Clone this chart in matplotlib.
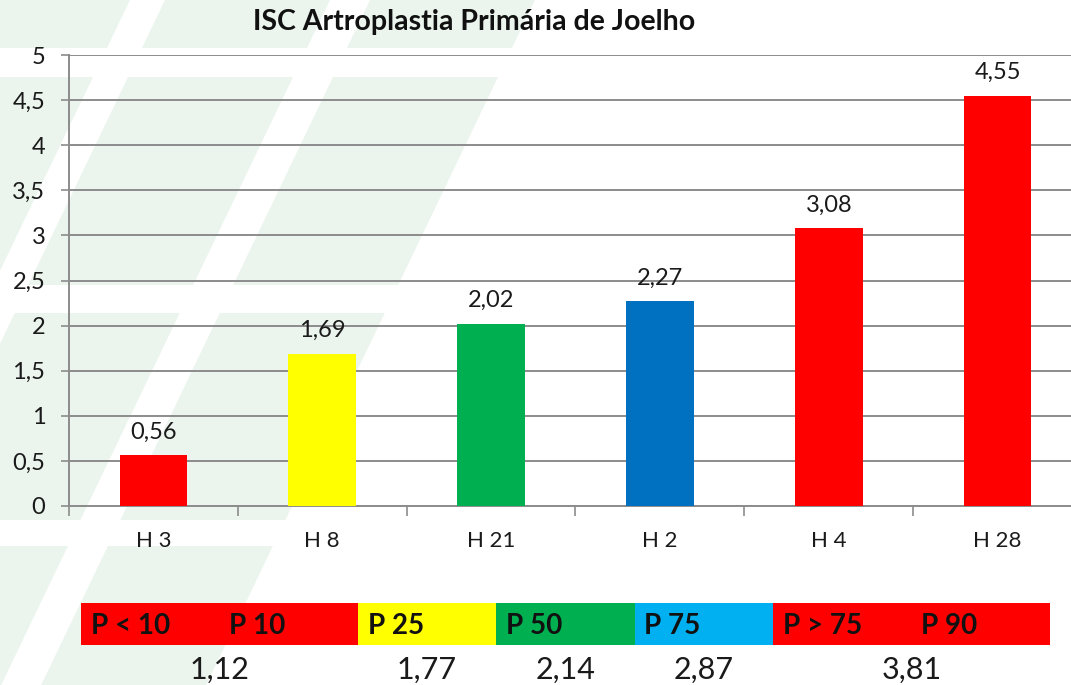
import matplotlib.pyplot as plt
from matplotlib.patches import Polygon

# Data
hospitals = ['H 3', 'H 8', 'H 21', 'H 2', 'H 4', 'H 28']
isc_values = [0.56, 1.69, 2.02, 2.27, 3.08, 4.55]
bar_colors = ['#ff0000', '#ffff00', '#00b050', '#0070c0', '#ff0000', '#ff0000']

pct_labels = ['P < 10', 'P 10', 'P 25', 'P 50', 'P 75', 'P > 75', 'P 90']
pct_colors = ['#ff0000', '#ff0000', '#ffff00', '#00b050', '#00b0f0', '#ff0000', '#ff0000']
pct_values = ['1,12', '1,77', '2,14', '2,87', '3,81']
pct_value_pos = [1.0, 2.5, 3.5, 4.5, 6.0]   # where each value sits along the strip

W, H = 1071, 685
FONT = 'Lato'

plt.rcParams['font.family'] = [FONT, 'DejaVu Sans']

fig = plt.figure(figsize=(W / 100, H / 100), dpi=100)
fig.patch.set_facecolor('white')


def px(x, y):
    # pixel coords (top-left origin) -> figure fraction
    return (x / W, 1 - y / H)


# faint green slanted tiles in the background
slant = 0.48
rows = [(0, 48), (77, 285), (313, 520), (546, 700)]
cols = [(-400, -230), (-195, -35), (0, 130), (165, 330), (370, 535)]
for y0, y1 in rows:
    for c0, c1 in cols:
        pts = [px(c0 - slant * y0, y0), px(c1 - slant * y0, y0),
               px(c1 - slant * y1, y1), px(c0 - slant * y1, y1)]
        fig.add_artist(Polygon(pts, closed=True, transform=fig.transFigure,
                               facecolor='#ebf5ed', edgecolor='none', zorder=0))

# main bar chart (plot area runs slightly past the right edge, as in the source)
ax = fig.add_axes([69 / W, 1 - 506 / H, (1082 - 69) / W, (506 - 55) / H])
ax.patch.set_alpha(0)
x = list(range(len(hospitals)))
bars = ax.bar(x, isc_values, width=0.4, color=bar_colors, zorder=3)

ax.set_xlim(-0.5, len(hospitals) - 0.5)
ax.set_ylim(0, 5)
yt = [i * 0.5 for i in range(11)]
ax.set_yticks(yt)
ax.set_yticklabels([f'{v:g}'.replace('.', ',') for v in yt], fontsize=17, color='#1a1a1a')
ax.yaxis.grid(True, color='#8c8c8c', linewidth=1.4, zorder=1)
ax.tick_params(axis='y', length=6, width=1.2, color='#8c8c8c', pad=11)

ax.set_xticks([i - 0.5 for i in range(len(hospitals) + 1)])
ax.set_xticklabels([])
ax.tick_params(axis='x', which='major', length=7, width=1.2, color='#8c8c8c')
ax.set_xticks(x, minor=True)
ax.set_xticklabels(hospitals, minor=True, fontsize=16, color='#1a1a1a')
ax.tick_params(axis='x', which='minor', length=0, pad=18)

for side in ['top', 'right']:
    ax.spines[side].set_visible(False)
for side in ['left', 'bottom']:
    ax.spines[side].set_color('#8c8c8c')
    ax.spines[side].set_linewidth(1.4)

for b, v in zip(bars, isc_values):
    ax.annotate(f'{v:.2f}'.replace('.', ','), (b.get_x() + b.get_width() / 2, v),
                xytext=(0, 9), textcoords='offset points', ha='center', va='bottom',
                fontsize=17, color='#1a1a1a')

fig.text(*px(474, 22), 'ISC Artroplastia Primária de Joelho', ha='center', va='center',
         fontsize=20.5, fontweight='bold', color='#111111')

# percentile strip at the bottom
sx = fig.add_axes([81 / W, 1 - 645 / H, (1050 - 81) / W, 42 / H])
sx.bar(range(len(pct_labels)), [1] * len(pct_labels), width=1.0, align='edge',
       color=pct_colors, edgecolor='none')
sx.set_xlim(0, len(pct_labels))
sx.set_ylim(0, 1)
sx.axis('off')
for i, lab in enumerate(pct_labels):
    sx.text(i + 0.07, 0.45, lab, ha='left', va='center', fontsize=20,
            fontweight='bold', color='#111111')
for pos, val in zip(pct_value_pos, pct_values):
    sx.text(pos, -0.6, val, ha='center', va='center', fontsize=22,
            color='#1a1a1a', clip_on=False)

fig.savefig('out.png', dpi=100)
